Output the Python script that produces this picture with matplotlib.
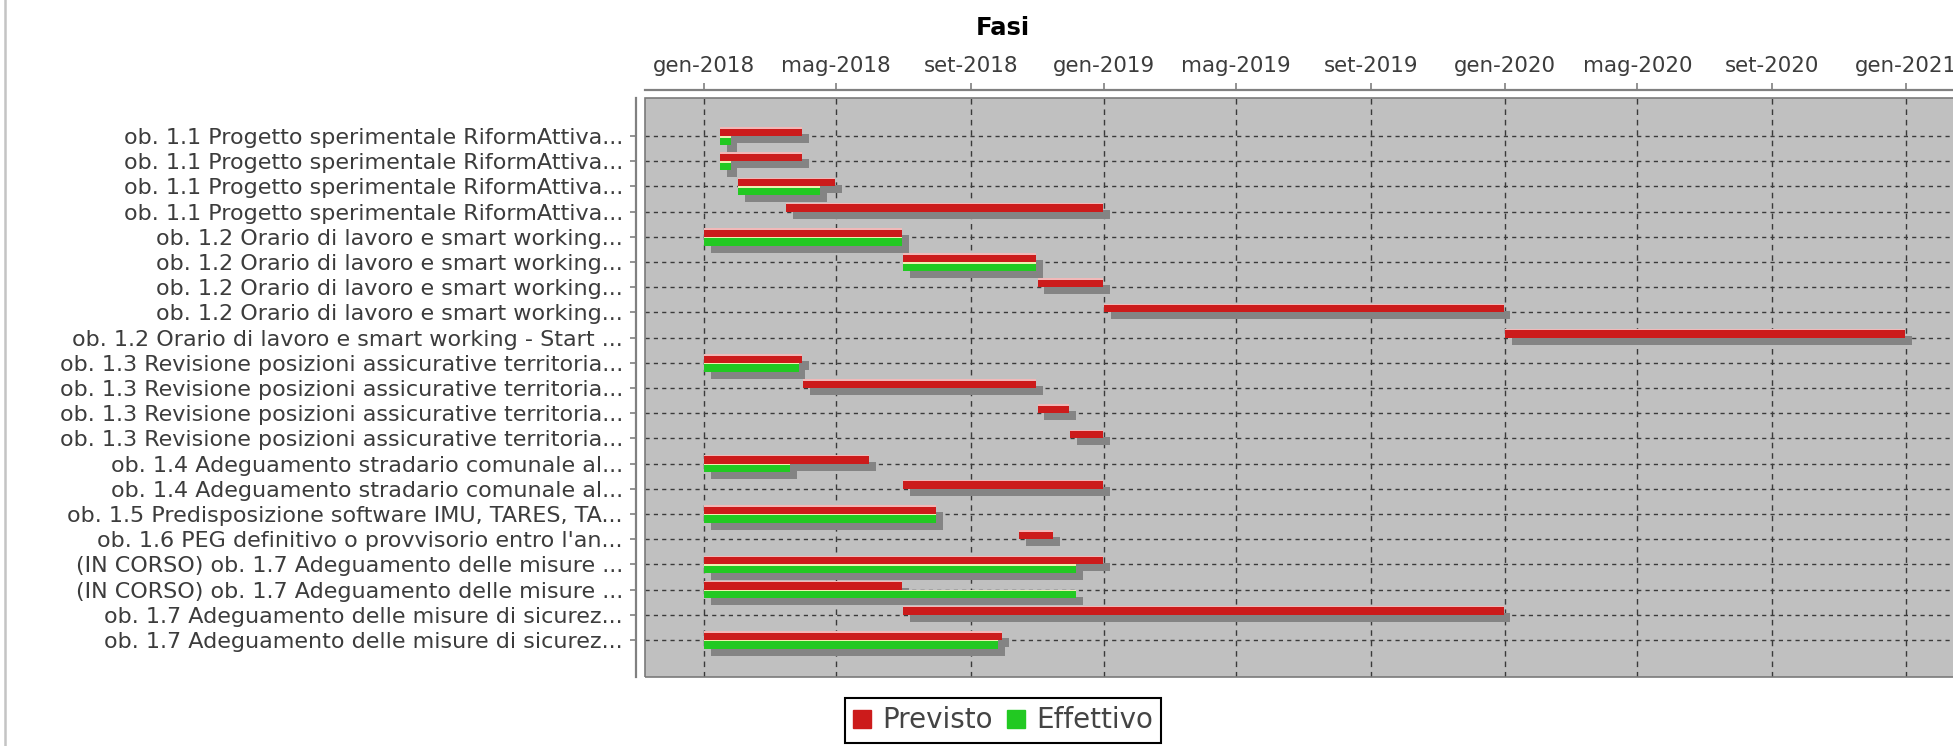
import matplotlib

matplotlib.use("Agg")

import matplotlib.dates as mdates  # type: ignore
import matplotlib.patheffects as pe  # type: ignore
import matplotlib.pyplot as plt  # type: ignore
import pandas as pd  # type: ignore
from matplotlib.lines import Line2D  # type: ignore
from matplotlib.patches import Rectangle  # type: ignore

LABELS = [
    "ob. 1.1 Progetto sperimentale RiformAttiva...",
    "ob. 1.1 Progetto sperimentale RiformAttiva...",
    "ob. 1.1 Progetto sperimentale RiformAttiva...",
    "ob. 1.1 Progetto sperimentale RiformAttiva...",
    "ob. 1.2 Orario di lavoro e smart working...",
    "ob. 1.2 Orario di lavoro e smart working...",
    "ob. 1.2 Orario di lavoro e smart working...",
    "ob. 1.2 Orario di lavoro e smart working...",
    "ob. 1.2 Orario di lavoro e smart working - Start ...",
    "ob. 1.3 Revisione posizioni assicurative territoria...",
    "ob. 1.3 Revisione posizioni assicurative territoria...",
    "ob. 1.3 Revisione posizioni assicurative territoria...",
    "ob. 1.3 Revisione posizioni assicurative territoria...",
    "ob. 1.4 Adeguamento stradario comunale al...",
    "ob. 1.4 Adeguamento stradario comunale al...",
    "ob. 1.5 Predisposizione software IMU, TARES, TA...",
    "ob. 1.6 PEG definitivo o provvisorio entro l'an...",
    "(IN CORSO) ob. 1.7 Adeguamento delle misure ...",
    "(IN CORSO) ob. 1.7 Adeguamento delle misure ...",
    "ob. 1.7 Adeguamento delle misure di sicurez...",
    "ob. 1.7 Adeguamento delle misure di sicurez...",
]

PREVISTO_START = [
    "2018-01-15", "2018-01-15", "2018-02-01", "2018-03-17",
    "2018-01-01", "2018-07-01", "2018-11-01", "2019-01-01", "2020-01-01",
    "2018-01-01", "2018-04-01", "2018-11-01", "2018-12-01",
    "2018-01-01", "2018-07-01",
    "2018-01-01",
    "2018-10-15",
    "2018-01-01", "2018-01-01",
    "2018-07-01", "2018-01-01",
]
PREVISTO_END = [
    "2018-03-31", "2018-03-31", "2018-04-30", "2018-12-31",
    "2018-06-30", "2018-10-31", "2018-12-31", "2019-12-31", "2020-12-31",
    "2018-03-31", "2018-10-31", "2018-11-30", "2018-12-31",
    "2018-05-31", "2018-12-31",
    "2018-07-31",
    "2018-11-15",
    "2018-12-31", "2018-06-30",
    "2019-12-31", "2018-09-30",
]
EFFETTIVO_START = [
    "2018-01-15", "2018-01-15", "2018-02-01", None,
    "2018-01-01", "2018-07-01", None, None, None,
    "2018-01-01", None, None, None,
    "2018-01-01", None,
    "2018-01-01",
    None,
    "2018-01-01", "2018-01-01",
    None, "2018-01-01",
]
EFFETTIVO_END = [
    "2018-01-25", "2018-01-25", "2018-04-17", None,
    "2018-06-30", "2018-10-31", None, None, None,
    "2018-03-28", None, None, None,
    "2018-03-20", None,
    "2018-07-31",
    None,
    "2018-12-06", "2018-12-06",
    None, "2018-09-26",
]

TICK_DATES = [
    "2018-01-01", "2018-05-01", "2018-09-01",
    "2019-01-01", "2019-05-01", "2019-09-01",
    "2020-01-01", "2020-05-01", "2020-09-01",
    "2021-01-01",
]
TICK_LABELS = [
    "gen-2018", "mag-2018", "set-2018",
    "gen-2019", "mag-2019", "set-2019",
    "gen-2020", "mag-2020", "set-2020",
    "gen-2021",
]

RED = "#cc1b1b"
GREEN = "#22c922"
W, H = 1953, 746


def _num(values):
    return mdates.date2num(pd.to_datetime(values))


def _draw_bars(ax, rows, starts, ends, offset, color, light):
    rows = [r for r, s in zip(rows, starts) if s is not None]
    s = _num([v for v in starts if v is not None])
    e = _num([v for v in ends if v is not None])
    bh = 0.35
    ys = [r + offset * bh / 2 for r in rows]
    ax.barh(
        ys, e - s, left=s, height=bh, color=color, zorder=3,
        path_effects=[
            pe.SimplePatchShadow(offset=(5, -5), shadow_rgbFace="#848484", alpha=1.0),
            pe.Normal(),
        ],
    )
    # lighter band on the top of each bar
    tops = [y - bh / 2 + 0.03 for y in ys]
    ax.barh(tops, e - s, left=s, height=0.06, color=light, zorder=4)


def _create_graph():
    fig = plt.figure(figsize=(W / 100, H / 100), dpi=100)
    left, right, top, bottom = 645, 1975, 98, 677
    ax = fig.add_axes([left / W, 1 - bottom / H, (right - left) / W, (bottom - top) / H])
    ax.set_facecolor("#c0c0c0")

    rows = list(range(len(LABELS)))
    _draw_bars(ax, rows, PREVISTO_START, PREVISTO_END, -1, RED, "#f2b8b8")
    _draw_bars(ax, rows, EFFETTIVO_START, EFFETTIVO_END, 1, GREEN, "#eef0b0")

    ax.set_ylim(len(LABELS) - 1 + 1.47, -1.51)
    ax.set_yticks(rows)
    ax.set_yticklabels(LABELS)

    ax.set_xlim(_num(["2017-11-08"])[0], _num(["2021-03-05"])[0])
    ax.set_xticks(_num(TICK_DATES))
    ax.set_xticklabels(TICK_LABELS)

    ax.xaxis.tick_top()
    ax.tick_params(axis="x", length=5, width=1.2, color="#808080", pad=4.5,
                   labelsize=15.4, labelcolor="#3c3c3c")
    ax.tick_params(axis="y", length=4, width=1.2, color="#808080", pad=5.5,
                   labelsize=16, labelcolor="#3c3c3c")

    ax.grid(axis="y", linestyle=(0, (3, 3)), color="#3a3a3a", linewidth=1.0)
    ax.grid(axis="x", linestyle=(0, (4, 3.5)), color="#3a3a3a", linewidth=1.0)
    ax.set_axisbelow(True)

    for side in ["bottom", "right"]:
        ax.spines[side].set_visible(False)
    ax.spines["top"].set_position(("outward", 6))
    ax.spines["left"].set_position(("outward", 6.5))
    for side in ["top", "left"]:
        ax.spines[side].set_color("#808080")
        ax.spines[side].set_linewidth(1.6)

    ax.add_patch(
        Rectangle((0, 0), 1, 1, transform=ax.transAxes, fill=False,
                  edgecolor="#7a7a7a", linewidth=1.2, zorder=6, clip_on=False)
    )

    fig.text(1003 / W, 1 - 28 / H, "Fasi", ha="center", va="center",
             fontsize=17.5, fontweight="bold")

    handles = [
        Line2D([], [], marker="s", linestyle="none", markersize=13, color=RED),
        Line2D([], [], marker="s", linestyle="none", markersize=13, color=GREEN),
    ]
    leg = fig.legend(
        handles, ["Previsto", "Effettivo"], loc="upper center",
        bbox_to_anchor=(1003 / W, 1 - 698 / H), ncol=2, fontsize=20,
        frameon=True, fancybox=False, edgecolor="black", framealpha=1,
        handlelength=0.65, handletextpad=0.4, columnspacing=0.5,
        borderpad=0.3, borderaxespad=0,
    )
    leg.get_frame().set_linewidth(1.5)
    for t in leg.get_texts():
        t.set_color("#444444")

    fig.add_artist(Line2D([5 / W, 5 / W], [0, 1], transform=fig.transFigure,
                          color="#c4c4c4", linewidth=1.8))

    fig.savefig("out.png", dpi=100)


_create_graph()
